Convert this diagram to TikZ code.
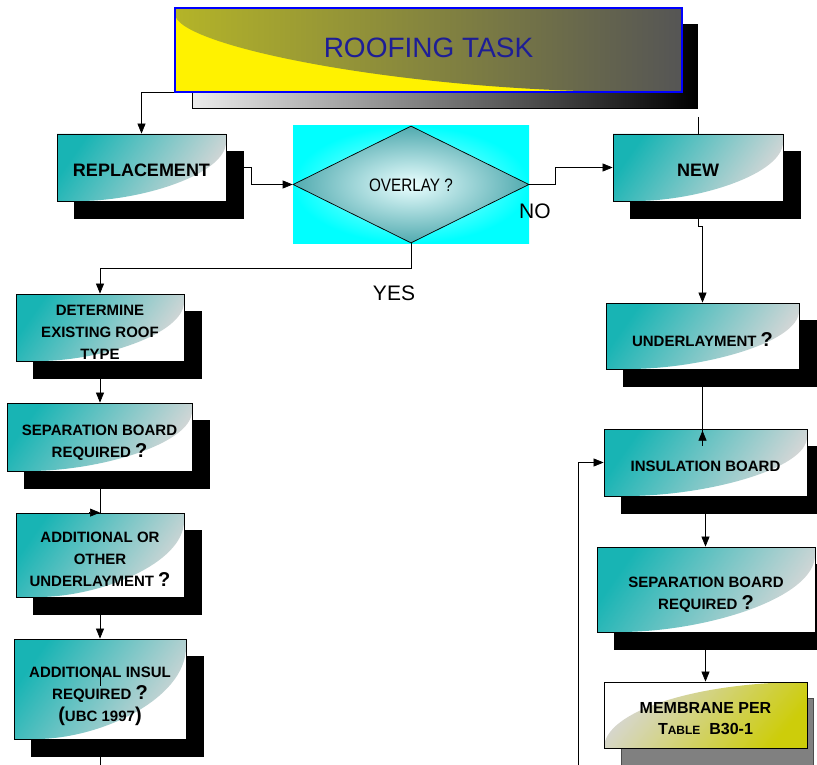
\documentclass[tikz,border=0pt]{standalone}
\usepackage{fontspec}
\setmainfont{Liberation Sans}
\usetikzlibrary{arrows.meta,calc,shapes.geometric}
\definecolor{tealc}{RGB}{24,180,180}
\definecolor{lgray}{RGB}{215,215,215}
\definecolor{olivey}{RGB}{205,205,10}
\definecolor{navyt}{RGB}{30,30,150}
\definecolor{darkg}{RGB}{85,85,85}
\definecolor{olivet}{RGB}{180,180,40}
\newcommand\qmark{{\fontsize{20}{22}\selectfont ?}}
\newcommand\bigpar[1]{{\fontsize{20}{22}\selectfont #1}}
% #1 name, #2 x0, #3 y0, #4 x1, #5 y1, #6 text, #7 text shift down
\newcommand\tealbox[7]{%
  \node[shadowbox, minimum width={#4-#2}, minimum height={#5-#3}] (#1s) at ({(#2+#4)/2+17},{(#3+#5)/2+17}) {};
  \node[tbox, minimum width={#4-#2}, minimum height={#5-#3}] (#1) at ({(#2+#4)/2},{(#3+#5)/2}) {};
  \node[ttext] (#1t) at ({(#2+#4)/2},{(#3+#5)/2+#7}) {#6};}
\tikzset{
  x=1pt, y=-1pt,
  arr/.style={-{Triangle[length=10pt,width=8pt]}, line width=0.7pt},
  conn/.style={line width=0.7pt},
  shadowbox/.style={rectangle, draw=black, fill=black, inner sep=0pt, line width=0.6pt},
  ttext/.style={inner sep=0pt, align=center, font=\bfseries\fontsize{15}{22}\selectfont},
  tbox/.style={rectangle, draw=black, fill=white, line width=0.8pt, inner sep=0pt,
    path picture={
      \shade[top color=tealc, bottom color=lgray, shading angle=55]
        (path picture bounding box.north west) -- (path picture bounding box.north east)
        -- ($(path picture bounding box.north east)+(0,8)$)
        .. controls ($(path picture bounding box.north east)!0.6!(path picture bounding box.south east)$)
        and ($(path picture bounding box.south west)!0.5!(path picture bounding box.south east)$)
        .. ($(path picture bounding box.south west)+(22,0)$) -- (path picture bounding box.south west) -- cycle;}},
  mbox/.style={rectangle, draw=black, fill=white, line width=0.8pt, inner sep=0pt,
    path picture={
      \shade[top color=lgray, bottom color=olivey, shading angle=50]
        (path picture bounding box.south west) -- (path picture bounding box.south east)
        -- (path picture bounding box.north east)
        .. controls ($(path picture bounding box.north east)!0.55!(path picture bounding box.north west)$)
        and ($(path picture bounding box.south west)!0.55!(path picture bounding box.north west)$)
        .. (path picture bounding box.south west) -- cycle;}},
  lab/.style={font=\fontsize{21}{24}\selectfont, inner sep=0pt}
}
\begin{document}
\begin{tikzpicture}
\useasboundingbox (0,0) rectangle (817,765);
\clip (0,0) rectangle (817,765);
\fill[white] (0,0) rectangle (817,765);

% Title
\node[rectangle, draw=black, line width=0.8pt, inner sep=0pt, minimum width=505, minimum height=84,
  left color=white!92!black, right color=black] (titles) at (444.5,66.5) {};
\node[rectangle, draw=blue, line width=1.2pt, fill=yellow, inner sep=0pt, minimum width=507, minimum height=84,
  path picture={
    \shade[left color=olivet, right color=darkg]
      (path picture bounding box.north west) -- (path picture bounding box.north east)
      -- (path picture bounding box.south east) -- ($(path picture bounding box.south east)+(-40,0)$)
      .. controls ($(path picture bounding box.south east)!0.55!(path picture bounding box.south west)$)
      and ($(path picture bounding box.north west)!0.45!(path picture bounding box.south west)$)
      .. ($(path picture bounding box.north west)+(0,6)$) -- cycle;}] (title) at (428.5,50) {};
\node[font=\fontsize{28}{30}\selectfont, text=navyt, inner sep=0pt] (titlet) at (428.5,48) {ROOFING TASK};

% Boxes
\tealbox{rep}{57}{134}{226}{201}{\fontsize{18}{20}\selectfont REPLACEMENT}{3}
\tealbox{new}{613}{134}{783}{201}{\fontsize{18}{20}\selectfont NEW}{3}
\tealbox{det}{16}{294}{184}{361}{DETERMINE\\EXISTING ROOF\\TYPE}{5}
\tealbox{sepa}{7}{403}{192}{471}{SEPARATION BOARD\\REQUIRED \qmark}{6}
\tealbox{add}{16}{513}{184}{597}{ADDITIONAL OR\\OTHER\\UNDERLAYMENT \qmark}{4.5}
\tealbox{insa}{14}{639}{186}{739}{ADDITIONAL INSUL\\REQUIRED \qmark\\\bigpar{(}UBC 1997\bigpar{)}}{7.5}
\tealbox{und}{606}{303}{799}{369}{UNDERLAYMENT \qmark}{4}
\tealbox{insb}{604}{429}{807}{496}{INSULATION BOARD}{4}
\tealbox{sepb}{597}{547}{815}{632}{SEPARATION BOARD\\REQUIRED \qmark}{5.5}

% Membrane
\node[rectangle, draw=black!70, fill=black!50, line width=0.6pt, inner sep=0pt, minimum width=192, minimum height=80] (mems) at (717,738) {};
\node[mbox, minimum width=203, minimum height=66] (mem) at (705.5,715) {};
\node[ttext, font=\bfseries\fontsize{16}{21}\selectfont] (memt) at (705.5,718.5) {MEMBRANE PER\\T{\fontsize{12}{14}\selectfont ABLE}\ \ B30-1};

% Overlay decision
\node[rectangle, inner sep=0pt, minimum width=236, minimum height=117, inner color=cyan!25!white, outer color=cyan] (ovbg) at (411,184.5) {};
\node[diamond, draw=black, line width=0.7pt, inner sep=0pt, minimum width=236, minimum height=117,
  inner color=white!92!cyan, outer color={rgb,255:red,80;green,170;blue,175}] (ov) at (411,184.5) {};
\node[inner sep=0pt, font=\fontsize{18}{20}\selectfont] (ovt) at (411,185) {\scalebox{0.85}[1]{OVERLAY ?}};

% Labels
\node[lab, anchor=west] (no) at (519,211) {NO};
\node[lab] (yes) at (394,293) {YES};

% Connectors
\draw[arr] (title.south west) -| (rep.north);
\coordinate (tn) at (698,117);
\draw[conn] (tn) -- (tn |- new.north);
\draw[arr] (reps.east |- rep.east) -- ++(8,0) |- (ov.west);
\draw[arr] (ov.east) -- ++(26,0) |- (new.west);
\draw[arr] (ov.south) -- ++(0,25) -| (det.north);
\draw[arr] (new.south |- news.south) -- ++(0,8) -| (und.north);
\draw[arr] (det.south |- dets.south) -- (det.south |- sepa.north);
\draw[conn] (det.south |- sepas.south) -- (det.south |- add.north);
\draw[arr] ($(det.south |- add.north)+(-11,0)$) -- (det.south |- add.north);
\draw[arr] (add.south |- adds.south) -- (insa.north);
\draw[conn] ($(insa.north)+(0,28)$) -- ($(insa.north)+(0,47)$);
\coordinate (bl) at (100,765);
\draw[conn] (insa.south |- insas.south) -- (bl);
\draw[conn] (und.south |- unds.south) -- ($(und.south |- insb.north)+(0,17)$);
\draw[arr] ($(und.south |- insb.north)+(0,15)$) -- ($(und.south |- insb.north)+(0,2)$);
\coordinate (fb) at (578,765);
\draw[arr] (fb) |- (insb.west);
\draw[arr] (insb.south |- insbs.south) -- (insb.south |- sepb.north);
\draw[arr] (insb.south |- sepbs.south) -- (insb.south |- mem.north);
\end{tikzpicture}
\end{document}
